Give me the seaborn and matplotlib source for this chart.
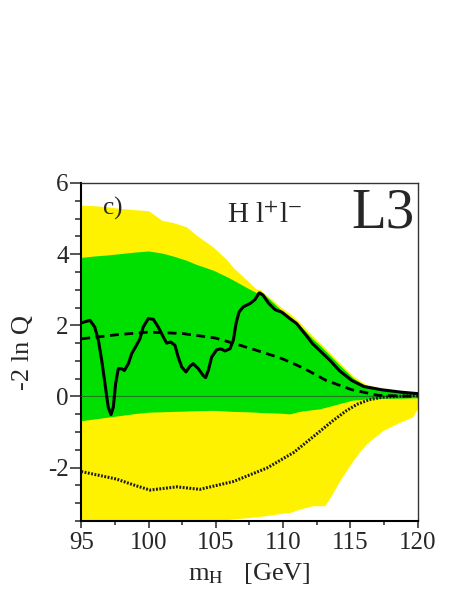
import numpy as np
import pandas as pd
import seaborn as sb
import matplotlib
matplotlib.use("Agg")
import matplotlib.pyplot as plt
from matplotlib.ticker import MultipleLocator

# observed -2lnQ
obs_m = [95.0, 95.65, 96.0, 96.27, 96.52, 96.76, 97.0, 97.21, 97.38, 97.55, 97.75,
         98.0, 98.2, 98.5, 98.74, 99.1, 99.36, 99.6, 99.98, 100.35, 100.72, 101.1,
         101.34, 101.64, 101.96, 102.2, 102.46, 102.78, 103.08, 103.32, 103.7,
         104.06, 104.24, 104.44, 104.69, 105.06, 105.36, 105.68, 106.05, 106.3,
         106.5, 106.72, 107.04, 107.53, 107.9, 108.22, 108.5, 108.9, 109.4, 109.9,
         110.5, 111.0, 111.6, 112.2, 112.7, 113.5, 114.2, 115.1, 116.0, 117.3,
         118.8, 120.0]
obs = [2.07, 2.14, 1.95, 1.58, 1.01, 0.36, -0.30, -0.51, -0.30, 0.36, 0.78,
       0.78, 0.73, 0.92, 1.20, 1.44, 1.62, 1.95, 2.19, 2.17, 1.95, 1.67,
       1.50, 1.53, 1.44, 1.11, 0.83, 0.69, 0.85, 0.92, 0.78,
       0.59, 0.53, 0.73, 1.11, 1.31, 1.34, 1.28, 1.34, 1.58,
       2.05, 2.37, 2.52, 2.61, 2.72, 2.91, 2.85, 2.63, 2.44, 2.37,
       2.19, 2.05, 1.77, 1.48, 1.30, 1.01, 0.72, 0.45, 0.28, 0.19,
       0.12, 0.08]

# expected background
bkg_m = [95, 97.5, 100, 102.5, 105, 106.8, 108, 109.8, 110.5, 111.6, 113.2, 115.1, 117.1, 120]
bkg = [1.62, 1.73, 1.81, 1.77, 1.64, 1.44, 1.30, 1.08, 0.97, 0.78, 0.45, 0.19, 0.03, 0.0]

# expected signal+background
sig_m = [95, 97.6, 99.0, 100.1, 102.1, 103.8, 106.3, 108.8, 110.8, 112.5, 113.7,
         114.7, 115.5, 116.4, 117.4, 120]
sig = [-2.11, -2.32, -2.50, -2.63, -2.54, -2.61, -2.39, -2.01, -1.57, -1.05, -0.68,
       -0.40, -0.22, -0.09, -0.02, 0.03]

# 1 and 2 sigma bands around background
band_m = [95, 96, 97, 98, 99, 100, 101, 101.8, 102.8, 103.5, 104.8, 105.8, 106.3,
          107.3, 108.0, 108.3, 109.8, 110.5, 111.2, 112.2, 112.7, 113.1, 113.5,
          114.2, 115.2, 115.7, 116.2, 117.4, 118.7, 119.6, 120]
up2 = [5.38, 5.36, 5.33, 5.28, 5.25, 5.22, 4.95, 4.89, 4.77, 4.55, 4.20, 3.85, 3.62,
       3.27, 3.02, 3.00, 2.52, 2.33, 2.10, 1.70, 1.52, 1.38, 1.22,
       0.95, 0.58, 0.45, 0.34, 0.22, 0.14, 0.10, 0.08]
up1 = [3.91, 3.95, 3.98, 4.02, 4.06, 4.09, 4.03, 3.95, 3.83, 3.72, 3.55, 3.37, 3.27,
       3.06, 2.92, 2.97, 2.45, 2.25, 2.02, 1.62, 1.45, 1.30, 1.15,
       0.88, 0.52, 0.40, 0.30, 0.19, 0.12, 0.09, 0.08]
dn1 = [-0.68, -0.63, -0.58, -0.53, -0.48, -0.44, -0.43, -0.42, -0.41, -0.40, -0.39,
       -0.41, -0.42, -0.43, -0.44, -0.45, -0.47, -0.49, -0.42, -0.37, -0.35, -0.31,
       -0.27, -0.20, -0.10, -0.09, -0.07, -0.05, -0.05, -0.04, -0.04]
dn2 = [-3.8, -3.8, -3.8, -3.8, -3.8, -3.8, -3.75, -3.7, -3.65, -3.6, -3.5, -3.46,
       -3.44, -3.41, -3.38, -3.37, -3.29, -3.26, -3.17, -3.07, -3.07, -3.07, -2.84,
       -2.37, -1.80, -1.55, -1.33, -0.96, -0.72, -0.58, -0.34]

sb.set_style("ticks")
plt.rcParams['font.family'] = ['Liberation Serif', 'DejaVu Serif']
plt.rcParams['mathtext.fontset'] = 'stix'

fig = plt.figure(figsize=(4.63, 5.99), dpi=100)
ax = fig.add_axes([0.1756, 0.1302, 0.7265, 0.5643])

ax.fill_between(band_m, dn2, up2, color='#fff200', lw=0, zorder=1)
ax.fill_between(band_m, dn1, up1, color='#00e000', lw=0, zorder=2)
ax.axhline(0, color='#1e7a1e', lw=0.8, zorder=3)

sb.lineplot(x=sig_m, y=sig, ax=ax, color='#1a1a1a', lw=2.2, linestyle=(0, (0.6, 0.5)), zorder=4)
sb.lineplot(x=bkg_m, y=bkg, ax=ax, color='k', lw=2.0, linestyle=(0, (3.2, 2.0)), zorder=5)
sb.lineplot(x=obs_m, y=obs, ax=ax, color='k', lw=2.2, zorder=6)

ax.set_xlim(95, 120)
ax.set_ylim(-3.5, 6)
ax.xaxis.set_major_locator(MultipleLocator(5))
ax.xaxis.set_minor_locator(MultipleLocator(2.5))
ax.yaxis.set_major_locator(MultipleLocator(2))
ax.yaxis.set_minor_locator(MultipleLocator(0.5))
ax.tick_params(axis='x', which='major', direction='out', length=5, width=1.1, labelsize=18, pad=3)
ax.tick_params(axis='x', which='minor', direction='out', length=3, width=1.1)
ax.tick_params(axis='y', which='major', direction='out', length=8, width=1.1, labelsize=18, pad=1)
ax.tick_params(axis='y', which='minor', direction='out', length=4, width=1.1)
ax.set_yticks([-2, 0, 2, 4, 6])
ax.set_yticklabels(['-2', '0', '2', '4', '6'])

for s in ['left', 'bottom']:
    ax.spines[s].set_linewidth(1.5)
    ax.spines[s].set_color('k')
for s in ['top', 'right']:
    ax.spines[s].set_linewidth(1.0)
    ax.spines[s].set_color('#333333')
    ax.spines[s].set_visible(True)

ax.set_xlabel(r"m$_{\rm H}$   [GeV]", fontsize=19, labelpad=5)
ax.set_ylabel("-2 ln Q", fontsize=19, labelpad=10)

ax.text(0.065, 0.908, "c)", transform=ax.transAxes, fontsize=18)
ax.text(0.432, 0.881, r"H l$^{+}$l$^{-}$", transform=ax.transAxes, fontsize=21)
ax.text(0.992, 0.867, "L3", transform=ax.transAxes, fontsize=41, ha='right')

plt.savefig("out.png", dpi=100)
